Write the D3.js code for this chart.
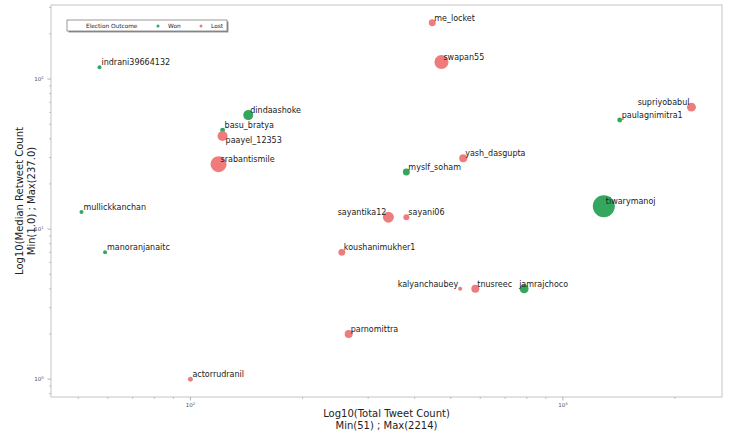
<!DOCTYPE html>
<html><head><meta charset="utf-8">
<script src="https://cdn.jsdelivr.net/npm/d3@7"></script>
<style>body{margin:0;background:#fff}svg{display:block}</style>
</head><body>
<script>
// ---- data ----
const handles = ["me_locket","swapan55","indrani39664132","dindaashoke","basu_bratya","paayel_12353","srabantismile","mullickkanchan","manoranjanaitc","actorrudranil","parnomittra","koushanimukher1","myslf_soham","yash_dasgupta","sayantika12","sayani06","kalyanchaubey","tnusreec","jamrajchoco","tiwarymanoj","paulagnimitra1","supriyobabul"];
const totalTweets = [446,472,57,143,122,122,119,51,59,100,266,255,380,540,340,380,530,582,787,1288,1421,2214];
const medianRetweets = [237,130,120,57.5,45.7,41.7,27.1,13,7,1,2,7,24,29.7,12,12,4,4,4,14.2,53.3,65];
const outcome = ["Lost","Lost","Won","Won","Won","Lost","Lost","Won","Won","Lost","Lost","Lost","Won","Lost","Lost","Lost","Lost","Lost","Won","Won","Won","Lost"];
const bubbleSize = [12,49,4,25,6,25,64,4,4,6,16,12,12,16,30,9,4,16,20,121,6,20];
const legendLabels = ["Won","Lost"];
const xTickValues = [100,1000];
const yTickValues = [1,10,100];

// ---- layout ----
const W = 730, H = 433;
const m = {left:51, right:722, top:5, bottom:397};
const svg = d3.select("body").append("svg").attr("width",W).attr("height",H)
  .style("font-family","'DejaVu Sans', sans-serif");

const x = d3.scaleLog().domain([Math.pow(10,1.6257), Math.pow(10,3.4272)]).range([m.left, m.right]);
const y = d3.scaleLog().domain([Math.pow(10,-0.1187), Math.pow(10,2.4935)]).range([m.bottom, m.top]);
const r = d3.scaleSqrt().domain([0,121]).range([0,11]);
const color = d3.scaleOrdinal().domain(["Won","Lost"]).range(["#34a65e","#ef7c7c"]);

// frame
svg.append("rect").attr("x",m.left).attr("y",m.top).attr("width",m.right-m.left).attr("height",m.bottom-m.top)
  .attr("fill","none").attr("stroke","#c4c4c4").attr("stroke-width",1);

// minor ticks
function minors(lo, hi){ const out=[]; for(let e=-2;e<5;e++){for(let k=2;k<10;k++){const v=k*Math.pow(10,e); if(v>lo&&v<hi) out.push(v);}} return out; }
const xMinor = minors(x.domain()[0], x.domain()[1]);
const yMinor = minors(y.domain()[0], y.domain()[1]);
const tickCol = "#a0a0a0";
svg.append("g").selectAll("line").data(xMinor).join("line")
  .attr("x1",d=>x(d)).attr("x2",d=>x(d)).attr("y1",m.bottom).attr("y2",m.bottom+2)
  .attr("stroke",tickCol).attr("stroke-width",0.6);
svg.append("g").selectAll("line").data(xTickValues).join("line")
  .attr("x1",d=>x(d)).attr("x2",d=>x(d)).attr("y1",m.bottom).attr("y2",m.bottom+3.5)
  .attr("stroke",tickCol).attr("stroke-width",0.8);
svg.append("g").selectAll("line").data(yMinor).join("line")
  .attr("y1",d=>y(d)).attr("y2",d=>y(d)).attr("x1",m.left).attr("x2",m.left-2)
  .attr("stroke",tickCol).attr("stroke-width",0.6);
svg.append("g").selectAll("line").data(yTickValues).join("line")
  .attr("y1",d=>y(d)).attr("y2",d=>y(d)).attr("x1",m.left).attr("x2",m.left-3.5)
  .attr("stroke",tickCol).attr("stroke-width",0.8);

function powLabel(sel, v){
  sel.append("tspan").text("10");
  sel.append("tspan").attr("font-size","3.8px").attr("dy","-2.5").text(Math.round(Math.log10(v)));
}
svg.append("g").selectAll("text").data(xTickValues).join("text")
  .attr("x",d=>x(d)).attr("y",m.bottom+10).attr("text-anchor","middle")
  .attr("font-size","5.5px").attr("fill","#555").each(function(d){powLabel(d3.select(this),d);});
svg.append("g").selectAll("text").data(yTickValues).join("text")
  .attr("x",m.left-12).attr("y",d=>y(d)+2).attr("text-anchor","middle")
  .attr("font-size","5.5px").attr("fill","#555").each(function(d){powLabel(d3.select(this),d);});

// axis titles
const cx = (m.left+m.right)/2, cy = (m.top+m.bottom)/2;
svg.append("text").attr("x",cx).attr("y",417).attr("text-anchor","middle").attr("font-size","10px").attr("fill","#222")
  .text("Log10(Total Tweet Count)");
svg.append("text").attr("x",cx).attr("y",429).attr("text-anchor","middle").attr("font-size","10px").attr("fill","#222")
  .text("Min(" + d3.min(totalTweets) + ") ; Max(" + d3.max(totalTweets) + ")");
svg.append("text").attr("transform",`translate(23,${cy}) rotate(-90)`).attr("text-anchor","middle").attr("font-size","10px").attr("fill","#222")
  .text("Log10(Median Retweet Count");
svg.append("text").attr("transform",`translate(35,${cy}) rotate(-90)`).attr("text-anchor","middle").attr("font-size","10px").attr("fill","#222")
  .text("Min(" + d3.min(medianRetweets).toFixed(1) + ") ; Max(" + d3.max(medianRetweets).toFixed(1) + ")");

// points
const pts = handles.map((h,i)=>({h, x:totalTweets[i], y:medianRetweets[i], o:outcome[i], s:bubbleSize[i]}));
svg.append("g").selectAll("circle").data(pts).join("circle")
  .attr("cx",d=>x(d.x)).attr("cy",d=>y(d.y)).attr("r",d=>r(d.s))
  .attr("fill",d=>color(d.o));

// labels
const rightAligned = new Set(["supriyobabul","sayantika12","kalyanchaubey"]);
const special = {"paayel_12353":{dx:3,dy:7}, "jamrajchoco":{dx:-5,dy:-2}};
svg.append("g").selectAll("text").data(pts).join("text")
  .attr("x",d=> x(d.x) + (special[d.h]?special[d.h].dx : (rightAligned.has(d.h)?-2:2)))
  .attr("y",d=> y(d.y) + (special[d.h]?special[d.h].dy : -2))
  .attr("text-anchor",d=>rightAligned.has(d.h)?"end":"start")
  .attr("font-size","8px").attr("fill","#1a1a1a").text(d=>d.h);

// legend
const lg = svg.append("g");
lg.append("rect").attr("x",68.5).attr("y",21.5).attr("width",160).attr("height",11).attr("fill","#9a9a9a");
lg.append("rect").attr("x",67).attr("y",20).attr("width",160).attr("height",11).attr("fill","#fff").attr("stroke","#555").attr("stroke-width",0.6);
lg.append("text").attr("x",86).attr("y",27.8).attr("font-size","5.8px").attr("fill","#222").text("Election Outcome");
const lx = [158,201];
lg.selectAll("circle.lg").data(legendLabels).join("circle").attr("class","lg")
  .attr("cx",(d,i)=>lx[i]).attr("cy",26).attr("r",1.5).attr("fill",d=>color(d));
lg.selectAll("text.lg").data(legendLabels).join("text").attr("class","lg")
  .attr("x",(d,i)=>lx[i]+10).attr("y",27.8).attr("font-size","5.8px").attr("fill","#222").text(d=>d);
</script>
</body></html>
